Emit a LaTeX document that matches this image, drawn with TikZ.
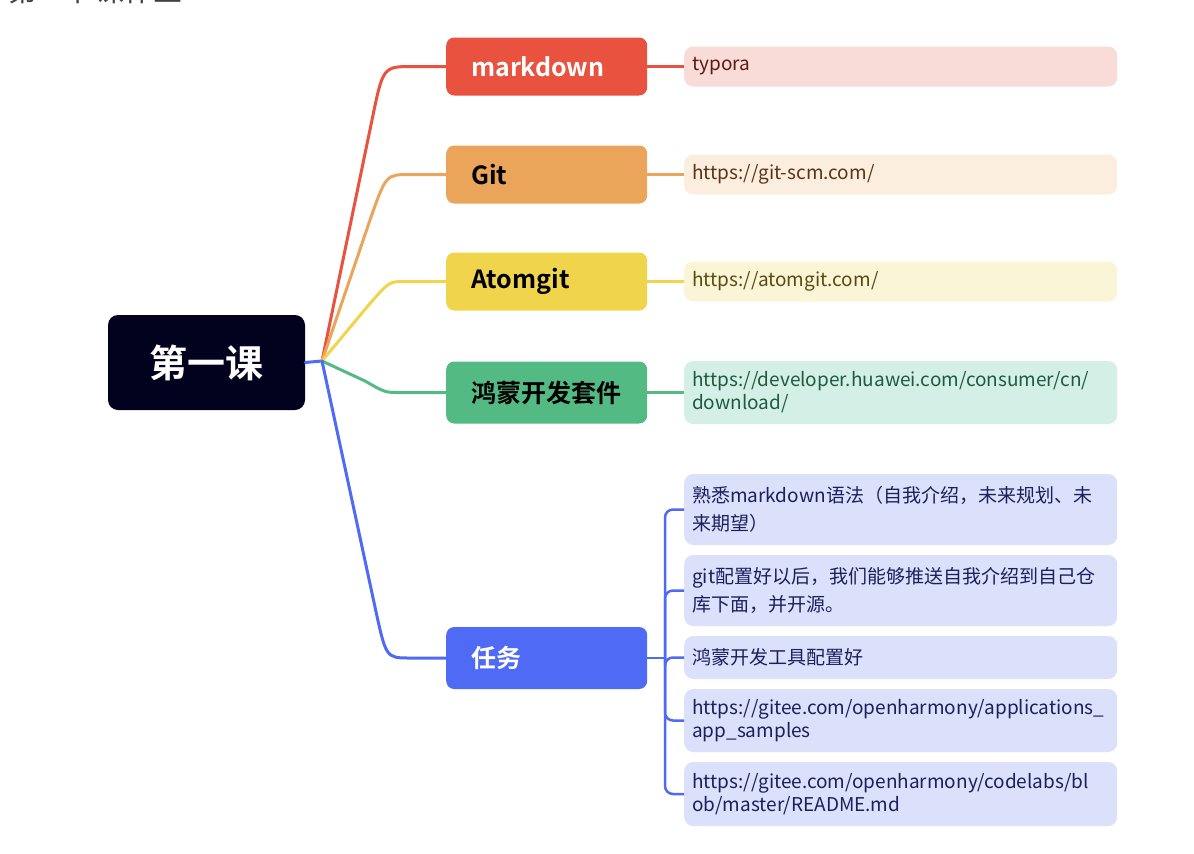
\documentclass[tikz,border=0pt]{standalone}
\usepackage{fontspec}
\setmainfont{Noto Sans CJK SC}[BoldFont={Noto Sans CJK SC Bold}]
\usetikzlibrary{positioning}

\definecolor{rootnavy}{HTML}{02021F}
\definecolor{mdred}{HTML}{E8523F}
\definecolor{gitorange}{HTML}{EAA55B}
\definecolor{atomyellow}{HTML}{F0D54C}
\definecolor{hmgreen}{HTML}{53BA83}
\definecolor{taskblue}{HTML}{4F6AF5}
\definecolor{mdredlt}{HTML}{F9DBD8}
\definecolor{gitorangelt}{HTML}{FCEEDE}
\definecolor{atomyellowlt}{HTML}{FBF5D7}
\definecolor{hmgreenlt}{HTML}{D4F0E6}
\definecolor{taskbluelt}{HTML}{DCE1FB}
\definecolor{mdreddk}{HTML}{5C1A12}
\definecolor{gitorangedk}{HTML}{5A3415}
\definecolor{atomyellowdk}{HTML}{5A4A0E}
\definecolor{hmgreendk}{HTML}{1E5B3E}
\definecolor{taskbluedk}{HTML}{1A1F5E}

\begin{document}
\begin{tikzpicture}[x=1pt, y=-1pt,
  rootbox/.style={fill=rootnavy, text=white, rounded corners=10pt, minimum width=197pt,
    minimum height=95pt, font=\fontsize{38}{38}\selectfont\bfseries},
  topicbox/.style={anchor=west, rounded corners=8pt, text width=151pt, inner xsep=25pt,
    align=left, minimum height=58pt, font=\fontsize{25}{25}\selectfont\bfseries},
  notebox/.style={anchor=west, rounded corners=9pt, text width=417pt, inner xsep=8pt,
    align=left, minimum height=40pt, font=\fontsize{19}{23}\selectfont},
  cjkbox/.style={notebox, font=\fontsize{19}{28}\selectfont},
  branch/.style={line width=3pt, line cap=round},
  leaf/.style={line width=2.5pt}]
  \useasboundingbox (0,0) rectangle (1194,854);
  \clip (0,0) rectangle (1194,854);

  % Title (cut at the top)
  \node[anchor=base west, inner sep=0pt, text=black!75, font=\fontsize{29}{29}\selectfont]
    (title) at (8,1) {第一节课作业};

  % Root
  \node[rootbox] (root) at (206.5,362.5) {第一课};
  \coordinate (hub) at (322,361);

  % Main topics
  \node[topicbox, fill=mdred, text=white] (md) at (446,66.5) {markdown};
  \node[topicbox, fill=gitorange, text=black] (git) at (446,174.5) {Git};
  \node[topicbox, fill=atomyellow, text=black] (atom) at (446,281.5) {Atomgit};
  \node[topicbox, fill=hmgreen, text=black, minimum height=62pt] (hm) at (446,392.5) {鸿蒙开发套件};
  \node[topicbox, fill=taskblue, text=white, minimum height=62pt] (task) at (446,658) {任务};

  % Notes
  \node[notebox, fill=mdredlt, text=mdreddk] (typora) at (684,66.5) {typora};
  \node[notebox, fill=gitorangelt, text=gitorangedk] (gitscm) at (684,174.5) {https://git-scm.com/};
  \node[notebox, fill=atomyellowlt, text=atomyellowdk] (atomurl) at (684,281.5) {https://atomgit.com/};
  \node[notebox, fill=hmgreenlt, text=hmgreendk, minimum height=63pt] (hmurl) at (684,392.5)
    {https://developer.huawei.com/consumer/cn/\\download/};
  \node[cjkbox, fill=taskbluelt, text=taskbluedk, minimum height=71pt] (t1) at (684,509.5)
    {熟悉markdown语法（自我介绍，未来规划、未\\来期望）};
  \node[cjkbox, fill=taskbluelt, text=taskbluedk, minimum height=71pt] (t2) at (684,590.5)
    {git配置好以后，我们能够推送自我介绍到自己仓\\库下面，并开源。};
  \node[cjkbox, fill=taskbluelt, text=taskbluedk, minimum height=43pt] (t3) at (684,657.5)
    {鸿蒙开发工具配置好};
  \node[notebox, fill=taskbluelt, text=taskbluedk, minimum height=63pt] (t4) at (684,720.5)
    {https://gitee.com/openharmony/applications\_\\app\_samples};
  \node[notebox, fill=taskbluelt, text=taskbluedk, minimum height=64pt] (t5) at (684,794)
    {https://gitee.com/openharmony/codelabs/bl\\ob/master/README.md};

  % Branches from the root
  \draw[branch, taskblue] (root.east) -- (hub);
  \draw[branch, mdred] (hub) -- (372,120) .. controls (383,66.5) .. (413,66.5) -- (md.west);
  \draw[branch, gitorange] (hub) -- (370,220) .. controls (386,174.5) .. (410,174.5) -- (git.west);
  \draw[branch, atomyellow] (hub) -- (367,307) .. controls (389,281.5) .. (405,281.5) -- (atom.west);
  \draw[branch, hmgreen] (hub) -- (365,381) .. controls (385,392.5) .. (400,392.5) -- (hm.west);
  \draw[branch, taskblue] (hub) -- (375,607) .. controls (386,658) .. (410,658) -- (task.west);

  % Leaves
  \draw[leaf, mdred] (md.east) -- (typora.west);
  \draw[leaf, gitorange] (git.east) -- (gitscm.west);
  \draw[leaf, atomyellow] (atom.east) -- (atomurl.west);
  \draw[leaf, hmgreen] (hm.east) -- (hmurl.west);
  \coordinate (spine) at (665,658);
  \draw[leaf, taskblue] (task.east) -- (spine);
  \foreach \t in {t1,t2,t3,t4,t5}
    \draw[leaf, taskblue, rounded corners=8pt] (spine) |- (\t.west);
\end{tikzpicture}
\end{document}
